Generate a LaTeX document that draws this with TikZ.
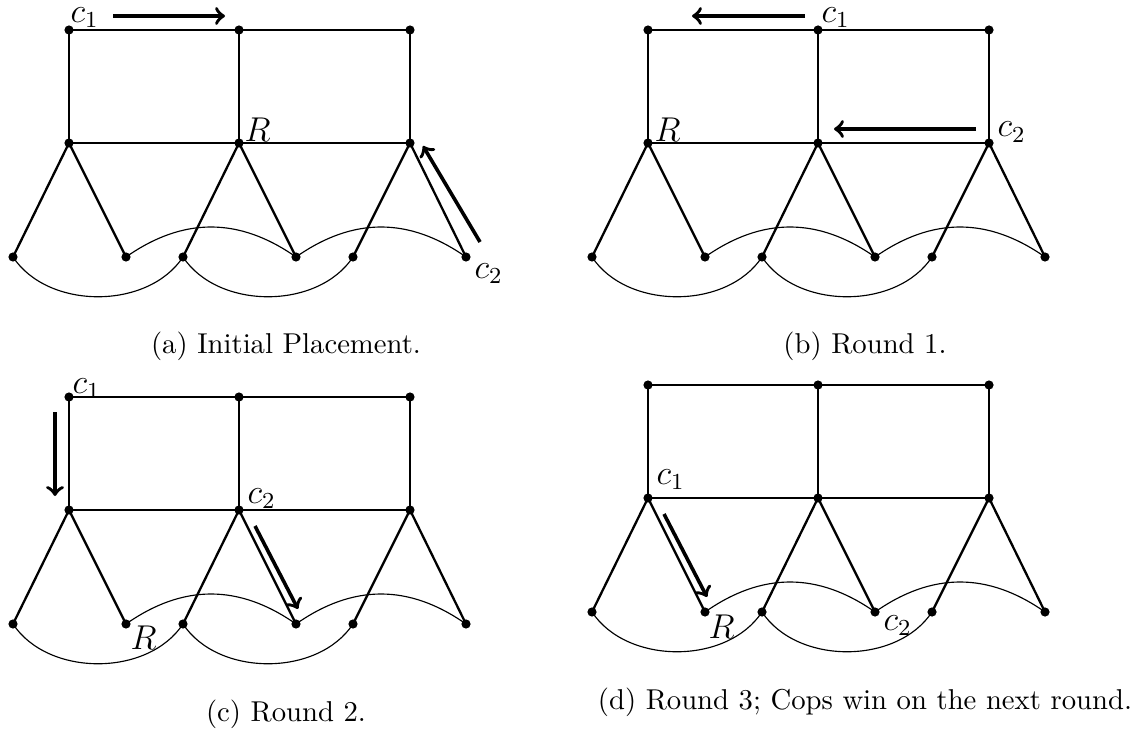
\documentclass[tikz,border=0pt]{standalone}
\usetikzlibrary{arrows}
\tikzset{
  dot/.style={circle, fill=black, inner sep=0pt, minimum size=3.2pt},
  edge/.style={line width=0.8pt},
  arcedge/.style={line width=0.4pt},
  move/.style={->, line width=1.25pt},
  lab/.style={anchor=base west, inner sep=0pt, font=\large},
  captext/.style={anchor=base, inner sep=0pt},
}
\newcommand\copgraph[1]{%
  \coordinate (#1T1) at (69,30);
  \coordinate (#1T2) at (239,30);
  \coordinate (#1T3) at (410,30);
  \coordinate (#1M1) at (69,143);
  \coordinate (#1M2) at (239,143);
  \coordinate (#1M3) at (410,143);
  \coordinate (#1B1) at (13,257);
  \coordinate (#1B2) at (126,257);
  \coordinate (#1B3) at (183,257);
  \coordinate (#1B4) at (296,257);
  \coordinate (#1B5) at (353,257);
  \coordinate (#1B6) at (466,257);
  \draw[arcedge] (#1B1) .. controls +(35,53) and +(-35,53) .. (#1B3);
  \draw[arcedge] (#1B3) .. controls +(35,53) and +(-35,53) .. (#1B5);
  \draw[arcedge] (#1B2) .. controls +(57,-40) and +(-57,-40) .. (#1B4);
  \draw[arcedge] (#1B4) .. controls +(57,-40) and +(-57,-40) .. (#1B6);
  \draw[edge] (#1T1) -- (#1T2) -- (#1T3) -- (#1M3) -- (#1M2) -- (#1M1) -- cycle;
  \draw[edge] (#1T2) -- (#1M2);
  \draw[edge] (#1B1) -- (#1M1) -- (#1B2);
  \draw[edge] (#1B3) -- (#1M2) -- (#1B4);
  \draw[edge] (#1B5) -- (#1M3) -- (#1B6);
  \foreach \n in {T1,T2,T3,M1,M2,M3,B1,B2,B3,B4,B5,B6}
    \node[dot] (#1n\n) at (#1\n) {};
}
\begin{document}
\begin{tikzpicture}[x=0.3484pt, y=-0.3484pt]
\useasboundingbox (0,0) rectangle (1138,731);
% (a)
\begin{scope}
  \copgraph{a}
  \node[lab] (ac1) at (70,22.5) {$c_1$};
  \node[lab] (aR) at (244,142) {$R$};
  \node[lab] (ac2) at (474,278) {$c_2$};
  \coordinate (aa1s) at (113,16); \coordinate (aa1e) at (225,16);
  \coordinate (aa2s) at (480,242); \coordinate (aa2e) at (423,146);
  \draw[move] (aa1s) -- (aa1e);
  \draw[move] (aa2s) -- (aa2e);
\end{scope}
\node[captext] (capa) at (286,353) {(a) Initial Placement.};
% (b)
\begin{scope}[shift={(579,0)}]
  \copgraph{b}
  \node[lab] (bc1) at (242,22.5) {$c_1$};
  \node[lab] (bR) at (75,142) {$R$};
  \node[lab] (bc2) at (418,137) {$c_2$};
  \coordinate (ba1s) at (226,16); \coordinate (ba1e) at (113,16);
  \coordinate (ba2s) at (397,129); \coordinate (ba2e) at (255,129);
  \draw[move] (ba1s) -- (ba1e);
  \draw[move] (ba2s) -- (ba2e);
\end{scope}
\node[captext] (capb) at (865,353) {(b) Round 1.};
% (c)
\begin{scope}[shift={(0,367)}]
  \copgraph{c}
  \node[lab] (cc1) at (72,26) {$c_1$};
  \node[lab] (cc2) at (247,136) {$c_2$};
  \node[lab] (cR) at (130,282) {$R$};
  \coordinate (ca1s) at (55,45); \coordinate (ca1e) at (55,129);
  \coordinate (ca2s) at (255,159); \coordinate (ca2e) at (298,242);
  \draw[move] (ca1s) -- (ca1e);
  \draw[move] (ca2s) -- (ca2e);
\end{scope}
\node[captext] (capc) at (286,721) {(c) Round 2.};
% (d)
\begin{scope}[shift={(579,355)}]
  \copgraph{d}
  \node[lab] (dc1) at (77,129) {$c_1$};
  \node[lab] (dR) at (129,283) {$R$};
  \node[lab] (dc2) at (304,275) {$c_2$};
  \coordinate (da1s) at (85,159); \coordinate (da1e) at (128,242);
  \draw[move] (da1s) -- (da1e);
\end{scope}
\node[captext] (capd) at (865,709) {(d) Round 3; Cops win on the next round.};
\end{tikzpicture}
\end{document}
